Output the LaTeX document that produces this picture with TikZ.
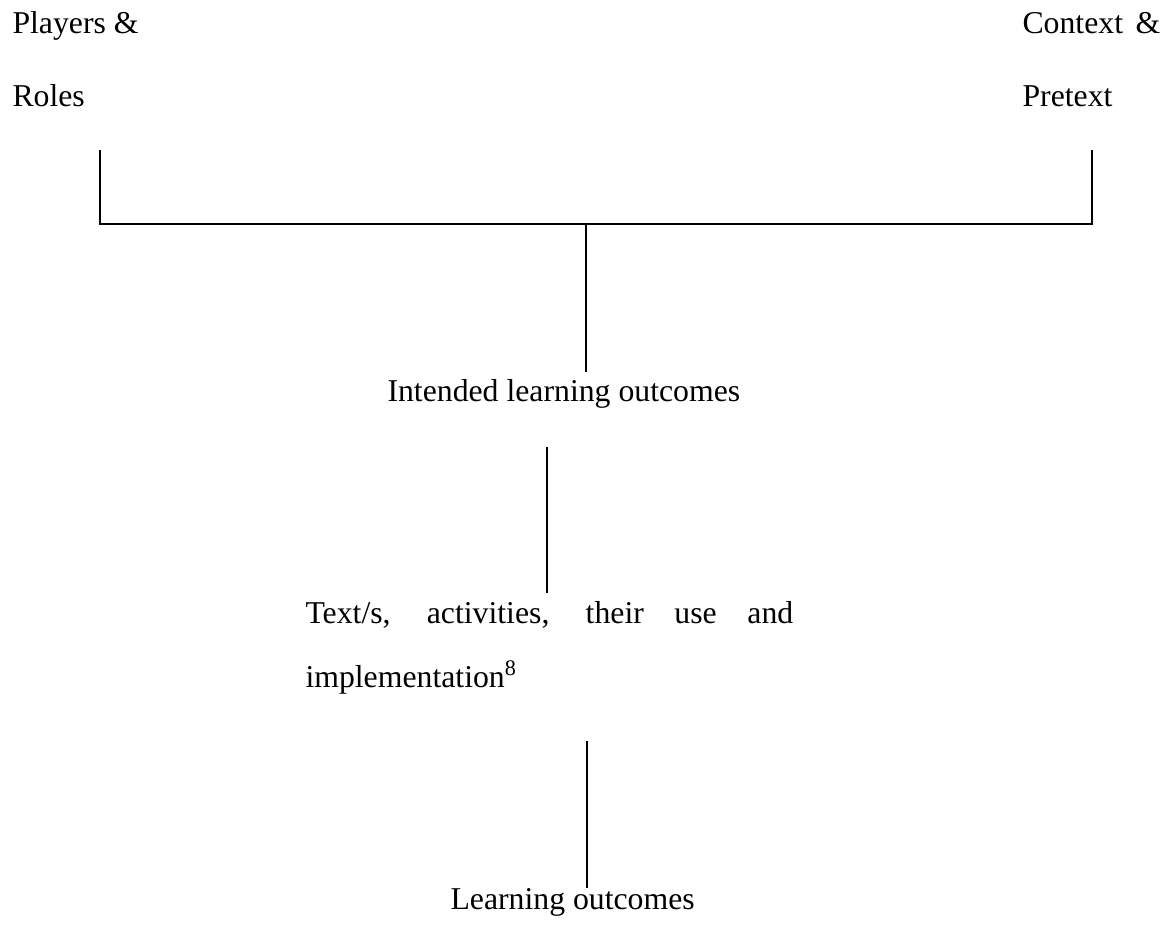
\documentclass[tikz,border=0pt]{standalone}
\usepackage{fontspec}
\setmainfont{Liberation Serif}

\tikzset{
  lbl/.style={inner sep=0pt, anchor=base west, align=left},
  link/.style={line width=0.8pt}
}

\begin{document}
\begin{tikzpicture}[x=0.3937pt, y=-0.3937pt]
				\useasboundingbox (0,0) rectangle (1173,924);

				% Text blocks (base = last line)
				\node[lbl, font=\fontsize{12.5}{28.7}\selectfont] (players) at (12,106) {Players \&\\Roles};
				\node[lbl, font=\fontsize{12.5}{28.7}\selectfont] (context) at (1022,106) {\makebox[54.3pt][s]{Context \&}\\Pretext};
				\node[lbl, font=\fontsize{12.5}{14}\selectfont] (intended) at (387,401) {Intended learning outcomes};
				\node[lbl, font=\fontsize{12.5}{25.2}\selectfont] (texts) at (305,687) {\makebox[192pt][s]{Text/s, activities, their use and}\\implementation\textsuperscript{8}};
				\node[lbl, font=\fontsize{12.5}{14}\selectfont] (learning) at (450,909) {Learning outcomes};

				% Connector ends
				\coordinate (bl) at (100,150);
				\coordinate (br) at (1092,150);
				\coordinate (mid) at (586,224);
				\coordinate (ilo) at (586,372);
				\coordinate (ilob) at (547,447);
				\coordinate (txt) at (547,593);
				\coordinate (txtb) at (587,741);
				\coordinate (lo) at (587,888);

				% Bracket
				\draw[link] (bl) -- (bl |- mid) -- (br |- mid) -- (br);

				% Stems
				\draw[link] (mid) -- (ilo);
				\draw[link] (ilob) -- (txt);
				\draw[link] (txtb) -- (lo);
			\end{tikzpicture}
\end{document}
